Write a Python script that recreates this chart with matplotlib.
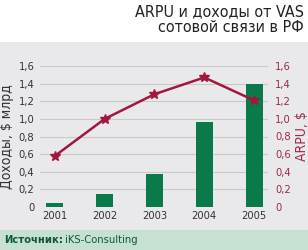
import matplotlib
matplotlib.use("Agg")
import matplotlib.pyplot as plt
from matplotlib.patches import Rectangle
from matplotlib import font_manager

years = ["2001", "2002", "2003", "2004", "2005"]
vas_revenue = [0.04, 0.15, 0.38, 0.96, 1.40]
arpu = [0.58, 1.00, 1.28, 1.47, 1.21]
yticks = [0, 0.2, 0.4, 0.6, 0.8, 1.0, 1.2, 1.4, 1.6]
ytick_labels = ["0", "0,2", "0,4", "0,6", "0,8", "1,0", "1,2", "1,4", "1,6"]

names = {f.name for f in font_manager.fontManager.ttflist}
stretch = "normal"
if "Liberation Sans Narrow" in names:
    base = "Liberation Sans Narrow"
elif any(f.name == "DejaVu Sans" and "Condensed" in f.fname for f in font_manager.fontManager.ttflist):
    base = "DejaVu Sans"
    stretch = "condensed"
else:
    base = "Liberation Sans"
FONT = [base, "DejaVu Sans"]
plt.rcParams["font.family"] = FONT
plt.rcParams["font.stretch"] = stretch

W, H = 308, 250
fig = plt.figure(figsize=(W / 100, H / 100), dpi=100)
fig.patch.set_facecolor("white")

# background panels
fig.patches.append(Rectangle((0, 20 / H), 1, (H - 42 - 20) / H, transform=fig.transFigure,
                             facecolor="#e9e9eb", edgecolor="none", zorder=-5))
fig.patches.append(Rectangle((0, 0), 1, 20 / H, transform=fig.transFigure,
                             facecolor="#c6e0d2", edgecolor="none", zorder=-5))

fig.text(304 / W, 1 - 4 / H, "ARPU и доходы от VAS\nсотовой связи в РФ", ha="right", va="top",
         fontsize=11.5, color="#222222", linespacing=1.1)

left, right = 40 / W, 268 / W
bottom, top = 1 - 207 / H, 1 - 66 / H
ax = fig.add_axes([left, bottom, right - left, top - bottom])
ax.set_facecolor("none")
x = list(range(len(years)))
ax.bar(x, vas_revenue, width=0.34, color="#0b7a4b", zorder=3)
ax.set_xlim(-0.3, 4.28)
ax.set_ylim(0, 1.6)
ax.set_yticks(yticks)
ax.set_yticklabels(ytick_labels, fontsize=8, color="#333333")
ax.set_xticks(x)
ax.set_xticklabels(years, fontsize=8, color="#333333")
ax.tick_params(length=0, pad=4)
ax.tick_params(axis="x", pad=3)
ax.grid(axis="y", color="#c9c9cb", linewidth=0.8, zorder=0)
ax.set_axisbelow(True)
for s in ax.spines.values():
    s.set_visible(False)
ax.set_ylabel("Доходы, $ млрд", fontsize=10, color="#333333", labelpad=3)

ax2 = ax.twinx()
ax2.set_ylim(0, 1.6)
ax2.plot(x, arpu, color="#a3173f", linewidth=1.8, marker="*", markersize=7.5, zorder=4)
ax2.set_yticks(yticks)
ax2.set_yticklabels(ytick_labels, fontsize=8, color="#9c2a4a")
ax2.tick_params(length=0, pad=5)
for s in ax2.spines.values():
    s.set_visible(False)
ax2.set_ylabel("ARPU, $", fontsize=10, color="#9c2a4a", labelpad=3)

t1 = fig.text(4 / W, 10 / H, "Источник:", ha="left", va="center", fontsize=8,
              fontweight="bold", color="#0f5a35")
fig.canvas.draw()
bb = t1.get_window_extent()
fig.text((bb.x1 + 2) / W, 10 / H, "iKS-Consulting", ha="left", va="center", fontsize=8,
         color="#0f5a35")

fig.savefig("out.png", dpi=100)
